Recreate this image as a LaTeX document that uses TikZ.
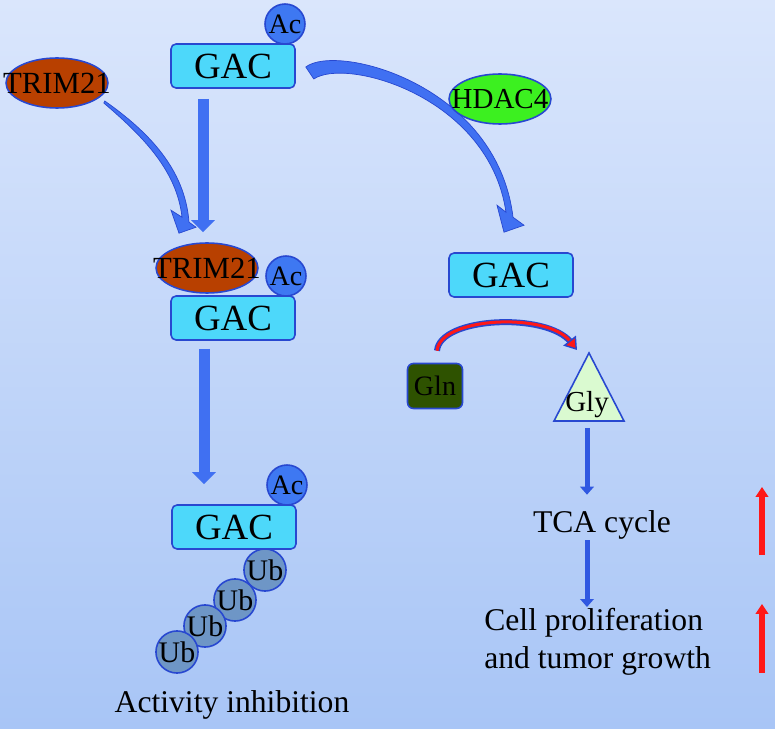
\documentclass[tikz,border=0pt]{standalone}
\usepackage{fontspec}
\setmainfont{Liberation Serif}
\usetikzlibrary{calc}
\usetikzlibrary{positioning}
\usetikzlibrary{shapes.geometric}
\usetikzlibrary{arrows.meta}

\definecolor{bgtop}{RGB}{218,230,252}
\definecolor{bgbottom}{RGB}{168,197,246}
\definecolor{edgeblue}{RGB}{40,72,208}
\definecolor{gaccyan}{RGB}{77,216,250}
\definecolor{acblue}{RGB}{62,120,242}
\definecolor{trimbrown}{RGB}{184,64,0}
\definecolor{hdacgreen}{RGB}{60,240,32}
\definecolor{glngreen}{RGB}{46,82,0}
\definecolor{glypale}{RGB}{218,250,208}
\definecolor{ubsteel}{RGB}{110,150,198}
\definecolor{shaftblue}{RGB}{64,112,242}
\definecolor{thinblue}{RGB}{48,88,225}
\definecolor{upred}{RGB}{255,24,24}

\newcommand{\widelabel}[1]{\makebox[0pt]{#1}}

\tikzset{
  gacbox/.style={rectangle, rounded corners=0.1cm, draw=edgeblue, line width=0.9pt, fill=gaccyan,
    minimum width=2.48cm, minimum height=0.88cm, inner sep=0pt, font=\fontsize{21}{21}\selectfont},
  acball/.style={circle, draw=edgeblue, line width=0.9pt, fill=acblue, minimum size=0.8cm,
    inner sep=0pt, font=\fontsize{16}{16}\selectfont},
  ubball/.style={acball, fill=ubsteel, font=\fontsize{17}{17}\selectfont},
  trimoval/.style={ellipse, draw=edgeblue, line width=0.9pt, fill=trimbrown, minimum width=2.04cm,
    minimum height=1cm, inner sep=0pt, font=\fontsize{17.5}{17.5}\selectfont},
  hdacoval/.style={trimoval, fill=hdacgreen, font=\fontsize{16.5}{16.5}\selectfont},
  glnbox/.style={rectangle, rounded corners=0.12cm, draw=edgeblue, line width=0.9pt, fill=glngreen,
    minimum width=1.1cm, minimum height=0.9cm, inner sep=0pt, font=\fontsize{16}{16}\selectfont},
  bodytext/.style={inner sep=0pt, font=\fontsize{18}{21.6}\selectfont},
  blockarrow/.style={draw=shaftblue, line width=0.22cm, -{Triangle[length=0.24cm, width=0.46cm]}},
  thinarrow/.style={draw=thinblue, line width=0.1cm, -{Triangle[length=0.16cm, width=0.27cm]}},
  uparrow/.style={draw=upred, line width=0.12cm, -{Triangle[length=0.2cm, width=0.25cm]}},
  bentarrow/.style={fill=shaftblue, draw=edgeblue, line width=0.4pt},
}

\begin{document}
\begin{tikzpicture}[x=0.02cm, y=-0.02cm]
  \shade[top color=bgtop, bottom color=bgbottom] (0,0) rectangle (775,729);

  % left column
  \node[acball] (acA) at (285,24) {Ac};
  \node[gacbox] (gacA) at (233,66) {GAC};
  \node[trimoval] (trimA) at (57,83) {\widelabel{TRIM21}};
  \node[trimoval] (trimB) at (207,268) {\widelabel{TRIM21}};
  \node[acball] (acB) at (286,276) {Ac};
  \node[gacbox] (gacB) at (233,318) {GAC};
  \node[acball] (acC) at (287,485) {Ac};
  \node[gacbox] (gacC) at (234,527) {GAC};
  \foreach \u/\x/\y in {1/265/570, 2/235/600, 3/205/626, 4/177/652}
    \node[ubball] (ub\u) at (\x,\y) {Ub};
  \node[bodytext, anchor=base] (inhib) at (232,713) {Activity inhibition};

  \draw[blockarrow] ($(gacA.south)+(-30,10)$) -- ($(trimB.north)+(-4,-10)$);
  \draw[blockarrow] ($(gacB.south)+(-29,8)$) -- ($(gacC.north)+(-30,-20)$);

  % TRIM21 binds
  \draw[bentarrow] ($(trimA.east)+(-4,18)$) .. controls +(44,31) and +(-4,-53) .. ($(trimB.north)+(-18,-20)$)
    -- ($(trimB.north)+(-11,-15)$) -- ($(trimB.north)+(-28,-9)$) -- ($(trimB.north)+(-36,-32)$)
    -- ($(trimB.north)+(-25,-25)$) .. controls +(-5,-46) and +(40,34) .. ($(trimA.east)+(-5,20)$) -- cycle;

  % right column
  \node[gacbox] (gacR) at (511,275) {GAC};
  \draw[bentarrow] ($(gacA.east)+(10,1)$) .. controls +(31,-24) and +(-16,-133) .. ($(gacR.north)+(2,-35)$)
    -- ($(gacR.north)+(13,-27)$) -- ($(gacR.north)+(-7,-20)$) -- ($(gacR.north)+(-14,-47)$)
    -- ($(gacR.north)+(-5,-40)$) .. controls +(-17,-116) and +(32,-22) .. ($(gacA.east)+(18,13)$) -- cycle;
  \node[hdacoval] (hdac) at (500,99) {\widelabel{HDAC4}};

  \node[glnbox] (gln) at (435,386) {Gln};
  \coordinate (glytop) at (589,353);
  \draw[draw=edgeblue, line width=0.9pt, fill=glypale] (glytop) -- (624,421) -- (554,421) -- cycle;
  \node[font=\fontsize{16.5}{16.5}\selectfont, inner sep=0pt] (gly) at (587,405) {Gly};

  \draw[draw=edgeblue, line width=0.12cm, shorten >=0.2cm]
    ($(gln.north)+(2,-12)$) .. controls +(3,-34) and +(-30,-38) .. ($(glytop)+(-12,-3)$);
  \draw[draw=upred, line width=0.06cm,
    -{Triangle[color=edgeblue, fill=upred, length=0.24cm, width=0.32cm, line width=0.8pt]}]
    ($(gln.north)+(2,-12)$) .. controls +(3,-34) and +(-30,-38) .. ($(glytop)+(-12,-3)$);

  \coordinate (glybase) at (587,428);
  \node[bodytext, anchor=base] (tca) at (602,533) {TCA cycle};
  \node[bodytext, anchor=north west, align=left] (growth) at (484,608) {Cell proliferation\\and tumor growth};
  \draw[thinarrow] (glybase) -- ($(glybase |- tca.north)+(0,-16)$);
  \draw[thinarrow] (glybase |- tca.south) -- ($(glybase |- growth.north)+(0,-1)$);

  % increase marks
  \coordinate (upA) at (762,555);
  \coordinate (upB) at (762,673);
  \draw[uparrow] (upA) -- ++(0,-68);
  \draw[uparrow] (upB) -- ++(0,-69);
\end{tikzpicture}
\end{document}
